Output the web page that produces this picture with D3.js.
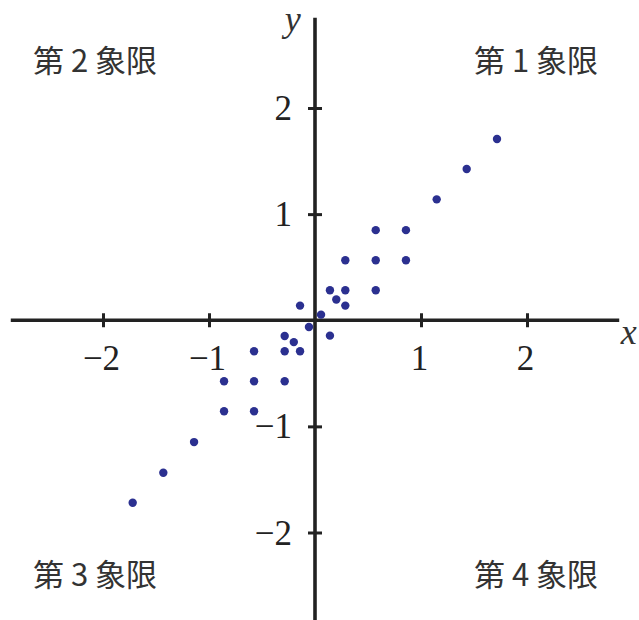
<!DOCTYPE html>
<html>
<head>
<meta charset="utf-8">
<script src="https://cdn.jsdelivr.net/npm/d3@7"></script>
<style>
  body { margin: 0; background: #fff; }
  svg { display: block; }
</style>
</head>
<body>
<div id="chart"></div>
<script>
// scatter points
var xs = [0.573, 0.858, 0.286, 0.573, 0.858, 0.141, 0.286, 0.573, 0.201, 0.286,
          -0.141, 0.057, -0.057, 0.141, -0.286, -0.2, -0.575, -0.286, -0.141,
          -0.858, -0.575, -0.286, -0.858, -0.575, -1.141, -1.431, -1.72,
          1.148, 1.431, 1.717];
var ys = [0.849, 0.849, 0.566, 0.566, 0.566, 0.283, 0.283, 0.283, 0.195, 0.138,
          0.138, 0.053, -0.063, -0.145, -0.148, -0.206, -0.292, -0.292, -0.292,
          -0.575, -0.575, -0.575, -0.858, -0.858, -1.148, -1.437, -1.72,
          1.139, 1.425, 1.708];

var xTicks = [-2, -1, 1, 2];
var yTicks = [2, 1, -1, -2];
var quadrants = ['第 1 象限', '第 2 象限', '第 3 象限', '第 4 象限'];

var width = 639, height = 620;

var svg = d3.select('#chart')
    .append('svg')
    .attr('width', width)
    .attr('height', height);

var x = d3.scaleLinear().domain([-2, 2]).range([103, 527]);
var y = d3.scaleLinear().domain([-2, 2]).range([532.5, 108]);

var fmt = function(d) {
  return d < 0 ? '\u2212' + Math.abs(d) : d;
};

// axis lines
svg.append('line')
    .attr('x1', x(-2.87)).attr('x2', x(2.87))
    .attr('y1', y(0)).attr('y2', y(0))
    .attr('stroke', '#222')
    .attr('stroke-width', 3.6);

svg.append('line')
    .attr('x1', x(0)).attr('x2', x(0))
    .attr('y1', y(2.85)).attr('y2', y(-2.95))
    .attr('stroke', '#222')
    .attr('stroke-width', 3.6);

// ticks
var xAxis = svg.append('g')
    .attr('transform', 'translate(0,' + y(0) + ')')
    .call(d3.axisBottom(x).tickValues(xTicks).tickSize(7).tickFormat(fmt));

var yAxis = svg.append('g')
    .attr('transform', 'translate(' + x(0) + ',0)')
    .call(d3.axisLeft(y).tickValues(yTicks).tickSize(7).tickFormat(fmt));

[xAxis, yAxis].forEach(function(g) {
  g.select('.domain').remove();
  g.selectAll('.tick line')
      .attr('stroke', '#222')
      .attr('stroke-width', 3);
  g.selectAll('.tick text')
      .attr('fill', '#222')
      .style('font-family', '"Liberation Serif", serif')
      .style('font-size', '35px');
});

xAxis.selectAll('.tick line').attr('y1', -7).attr('y2', 7);
xAxis.selectAll('.tick text').attr('y', 50).attr('dy', 0).attr('dx', -2);

yAxis.selectAll('.tick line').attr('x1', -7).attr('x2', 7);
yAxis.selectAll('.tick text').attr('x', -23).attr('dy', '0.33em');

// axis names
svg.append('text')
    .attr('x', x(2.96)).attr('y', y(-0.22))
    .attr('text-anchor', 'middle')
    .style('font-family', '"Liberation Serif", serif')
    .style('font-style', 'italic')
    .style('font-size', '36px')
    .attr('fill', '#333')
    .text('x');

svg.append('text')
    .attr('x', x(-0.21)).attr('y', y(2.73))
    .attr('text-anchor', 'middle')
    .style('font-family', '"Liberation Serif", serif')
    .style('font-style', 'italic')
    .style('font-size', '36px')
    .attr('fill', '#333')
    .text('y');

// quadrant labels
var qpos = [[536, 72], [95, 72], [95, 586], [536, 586]];
svg.selectAll('text.quad')
    .data(quadrants)
    .enter()
    .append('text')
    .attr('class', 'quad')
    .attr('x', function(d, i) { return qpos[i][0]; })
    .attr('y', function(d, i) { return qpos[i][1]; })
    .attr('text-anchor', 'middle')
    .style('font-family', '"Noto Sans CJK JP", sans-serif')
    .style('font-size', '31px')
    .attr('fill', '#333')
    .text(function(d) { return d; });

// points
svg.selectAll('circle')
    .data(xs)
    .enter()
    .append('circle')
    .attr('cx', function(d) { return x(d); })
    .attr('cy', function(d, i) { return y(ys[i]); })
    .attr('r', 4.2)
    .attr('fill', '#2b3090');
</script>
</body>
</html>
